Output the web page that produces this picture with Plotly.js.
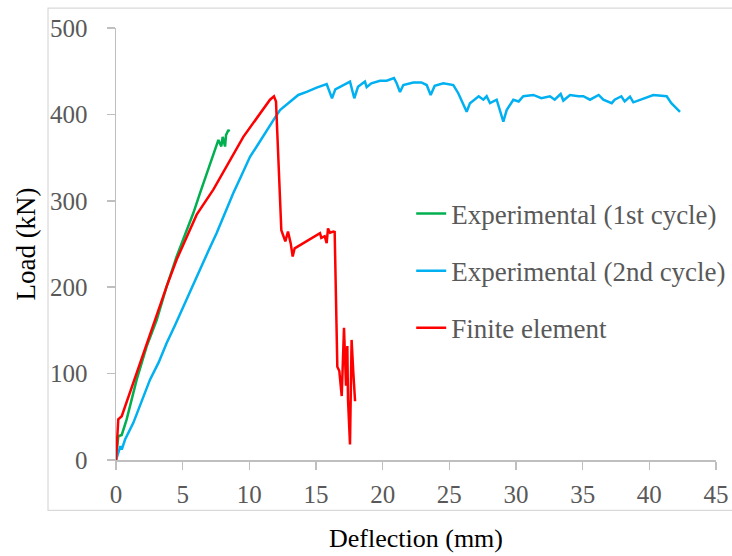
<!DOCTYPE html>
<html>
<head>
<meta charset="utf-8">
<script src="https://cdn.plot.ly/plotly-3.0.1.min.js"></script>
<style>html,body{margin:0;padding:0;background:#fff;}#chart{width:732px;height:556px;}</style>
</head>
<body>
<div id="chart"></div>
<script>
// Experimental (1st cycle)
const exp1X = [0, 0.17, 0.43, 0.8, 1.55, 2.3, 3.05, 3.8, 4.55, 5.3, 5.8, 6.3, 6.8, 7.43, 7.68, 7.9, 8.0, 8.18, 8.25, 8.43, 8.5];
const exp1Y = [0, 27.5, 29, 47, 93, 131.6, 162, 201, 235.6, 266.5, 285.8, 309, 332, 359, 370.5, 363, 374, 362.8, 376, 382, 380];

// Experimental (2nd cycle)
const exp2X = [0, 0.17, 0.33, 0.43, 0.68, 1.3, 1.9, 2.55, 3.2, 3.8, 4.4, 5.05, 5.7, 6.3, 6.9, 7.55, 8.2, 8.8, 9.4, 10.05, 10.6, 11.05, 11.4, 11.9, 12.3, 12.8, 13.67, 14.3, 15.05, 15.8, 16.2, 16.45, 17.3, 17.55, 17.87, 18.15, 18.67, 18.8, 19.15, 19.8, 20.3, 20.85, 21.05, 21.3, 21.55, 22.3, 22.9, 23.3, 23.6, 23.9, 24.55, 25.3, 25.67, 26.3, 26.55, 27.2, 27.55, 27.8, 28.05, 28.55, 29.05, 29.3, 29.8, 30.2, 30.55, 31.3, 31.9, 32.55, 32.9, 33.35, 33.55, 34.05, 34.7, 35.05, 35.55, 36.2, 36.55, 37.18, 37.4, 37.9, 38.15, 38.55, 38.8, 39.3, 40.3, 41.3, 41.65, 42.3];
const exp2Y = [0, 8.3, 16, 12, 23.7, 43, 66, 93, 113, 135.5, 155, 177.8, 200, 222, 241, 262.7, 287, 309, 329, 351, 364, 375, 385, 395.6, 405, 411, 422.5, 426, 431, 435, 418.7, 429, 436, 438, 418.7, 432, 438, 431.5, 436, 439, 439, 442, 436, 426, 434, 437, 437, 434, 422.5, 433, 436, 434, 424.5, 403, 413, 421, 417, 421, 413, 417, 391.7, 405, 417, 415, 421, 422.5, 418.7, 421, 417, 423.6, 416, 422.5, 421, 421, 417, 422.5, 417, 413, 417, 421, 415, 420.6, 414, 417, 422.5, 421, 413, 403];

// Finite element
const feX = [0, 0.17, 0.43, 2.05, 3.8, 4.55, 6.05, 7.3, 9.55, 11.55, 11.85, 12.0, 12.2, 12.4, 12.7, 12.9, 13.1, 13.25, 13.4, 14.05, 14.8, 15.3, 15.4, 15.65, 15.8, 15.9, 16.05, 16.3, 16.4, 16.6, 16.75, 16.93, 17.1, 17.25, 17.35, 17.4, 17.55, 17.67, 17.8, 17.93];
const feY = [0, 47, 50.6, 124, 201, 232, 284, 313, 374, 417, 421, 415, 330, 266, 253, 264.5, 251, 235.6, 245, 251, 257, 262.6, 257, 259, 251, 268, 263, 264.5, 264, 108, 103, 74, 153, 86, 132, 70, 18, 139, 101, 68];

const names = ['Experimental (1st cycle)', 'Experimental (2nd cycle)', 'Finite element'];
const xTicks = [0, 5, 10, 15, 20, 25, 30, 35, 40, 45];
const yTicks = [0, 100, 200, 300, 400, 500];

const serif = 'Liberation Serif, Times New Roman, serif';
const axisGray = '#bfbfbf';
const labelGray = '#595959';

const traces = [
  {x: exp1X, y: exp1Y, name: names[0], legendgroup: 'g1', mode: 'lines', line: {color: '#00B050', width: 2.5}},
  {x: exp2X, y: exp2Y, name: names[1], legendgroup: 'g2', mode: 'lines', line: {color: '#00B0F0', width: 2.5}},
  {x: feX, y: feY, name: names[2], legendgroup: 'g3', mode: 'lines', line: {color: '#FF0000', width: 2.5}}
];

const layout = {
  width: 732, height: 556,
  margin: {l: 116, r: 16, t: 28, b: 95.5, autoexpand: false},
  paper_bgcolor: '#ffffff', plot_bgcolor: '#ffffff',
  font: {family: serif, color: labelGray, size: 25},
  showlegend: true,
  legend: {
    x: 0.492, y: 0.626, xanchor: 'left', yanchor: 'top',
    font: {family: serif, size: 27, color: labelGray},
    tracegroupgap: 19, traceorder: 'grouped', bgcolor: 'rgba(0,0,0,0)'
  },
  xaxis: {
    range: [0, 45], tickvals: xTicks, ticktext: xTicks.map(String),
    showgrid: false, zeroline: false, showline: true, linecolor: axisGray, linewidth: 1.5,
    ticks: 'outside', ticklen: 8, tickcolor: axisGray, tickwidth: 1.5,
    tickfont: {family: serif, size: 25, color: labelGray},
    ticklabelstandoff: 3,
    title: {text: 'Deflection (mm)', font: {family: serif, size: 26, color: '#000000'}, standoff: 22}
  },
  yaxis: {
    range: [0, 500], tickvals: yTicks, ticktext: yTicks.map(String),
    showgrid: false, zeroline: false, showline: true, linecolor: axisGray, linewidth: 1.5,
    ticks: 'outside', ticklen: 8, tickcolor: axisGray, tickwidth: 1.5,
    tickfont: {family: serif, size: 25, color: labelGray},
    ticklabelstandoff: 14,
    title: {text: 'Load (kN)', font: {family: serif, size: 27, color: '#000000'}, standoff: 6}
  },
  shapes: [{
    type: 'rect', xref: 'paper', yref: 'paper', layer: 'below',
    x0: -0.1133, x1: 1.03, y0: -0.1168, y1: 1.046,
    line: {color: '#d9d9d9', width: 1.2}, fillcolor: 'rgba(0,0,0,0)'
  }]
};

Plotly.newPlot('chart', traces, layout, {displayModeBar: false, staticPlot: true});
</script>
</body>
</html>
